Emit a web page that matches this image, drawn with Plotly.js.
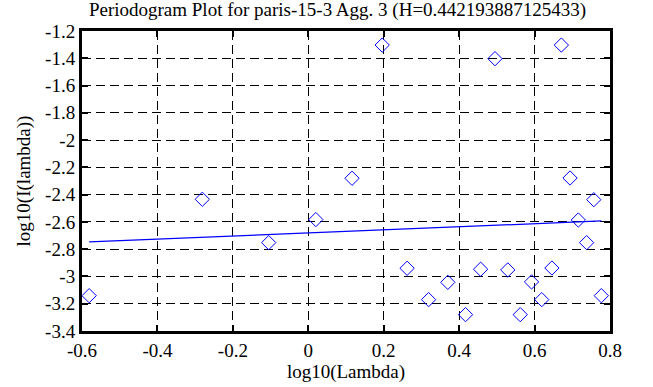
<!DOCTYPE html>
<html>
<head>
<meta charset="utf-8">
<script src="https://cdn.plot.ly/plotly-3.0.1.min.js"></script>
<style>html,body{margin:0;padding:0;background:#fff}#chart{width:653px;height:387px}</style>
</head>
<body>
<div id="chart"></div>
<script>
var logLambda = [-0.581, -0.281, -0.105, 0.020, 0.116, 0.196, 0.262, 0.319, 0.370, 0.417, 0.457, 0.495, 0.529, 0.562, 0.592, 0.619, 0.646, 0.671, 0.694, 0.716, 0.738, 0.757, 0.777];
var logI = [-3.141, -2.434, -2.752, -2.583, -2.280, -1.303, -2.940, -3.170, -3.043, -3.280, -2.947, -1.403, -2.952, -3.280, -3.040, -3.170, -2.938, -1.303, -2.278, -2.586, -2.752, -2.437, -3.141];
var fitX = [-0.581, 0.777];
var fitY = [-2.747, -2.593];
var xTickVals = [-0.6, -0.4, -0.2, 0, 0.2, 0.4, 0.6, 0.8];
var xTickText = ["-0.6", "-0.4", "-0.2", "0", "0.2", "0.4", "0.6", "0.8"];
var yTickVals = [-1.2, -1.4, -1.6, -1.8, -2, -2.2, -2.4, -2.6, -2.8, -3, -3.2, -3.4];
var yTickText = ["-1.2", "-1.4", "-1.6", "-1.8", "-2", "-2.2", "-2.4", "-2.6", "-2.8", "-3", "-3.2", "-3.4"];

var font = {family: "Liberation Serif", size: 19, color: "#000"};
var traces = [
  {x: logLambda, y: logI, type: "scatter", mode: "markers",
   marker: {symbol: "diamond-open", size: 11, color: "#0000ff", line: {width: 1, color: "#0000ff"}},
   hoverinfo: "none", cliponaxis: false},
  {x: fitX, y: fitY, type: "scatter", mode: "lines",
   line: {color: "#0000ff", width: 1.3}, hoverinfo: "none"}
];
var axisCommon = {
  showline: true, linecolor: "#000", linewidth: 3, mirror: "ticks",
  ticks: "inside", ticklen: 6, tickwidth: 2, tickcolor: "#000",
  showgrid: true, gridcolor: "#000", gridwidth: 1, griddash: "9px,5px",
  zeroline: false, tickfont: font, tickmode: "array"
};
var layout = {
  width: 653, height: 387,
  margin: {l: 82, r: 43, t: 31, b: 56},
  paper_bgcolor: "#fff", plot_bgcolor: "#fff",
  showlegend: false,
  font: font,
  title: {text: "Periodogram Plot for paris-15-3 Agg. 3 (H=0.442193887125433)", font: font,
          x: 0.484, xanchor: "center", y: 0.975, yanchor: "middle", xref: "paper"},
  xaxis: Object.assign({}, axisCommon, {range: [-0.6, 0.8], tickvals: xTickVals, ticktext: xTickText,
          title: {text: "log10(Lambda)", font: font, standoff: 3}}),
  yaxis: Object.assign({}, axisCommon, {range: [-3.4, -1.2], tickvals: yTickVals, ticktext: yTickText,
          title: {text: "log10(I(lambda))", font: font, standoff: 10}})
};
Plotly.newPlot("chart", traces, layout, {staticPlot: true, displayModeBar: false});
</script>
</body>
</html>
